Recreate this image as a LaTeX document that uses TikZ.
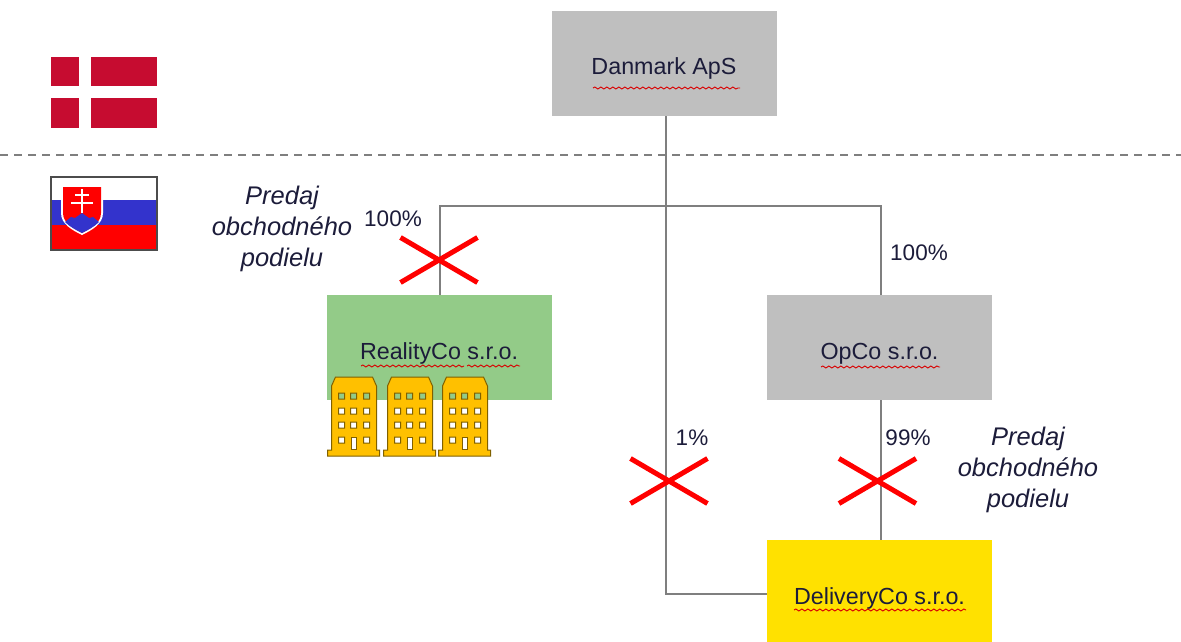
\documentclass[tikz,border=0pt]{standalone}
\usepackage{fontspec}
\setmainfont{Liberation Sans}
\usetikzlibrary{shapes.misc,decorations.pathmorphing}
\definecolor{boxGray}{HTML}{BFBFBF}
\definecolor{boxGreen}{HTML}{93CB88}
\definecolor{boxYellow}{HTML}{FFE100}
\definecolor{inkBlue}{HTML}{1C1C3A}
\definecolor{lineGray}{HTML}{7F7F7F}
\definecolor{flagRed}{HTML}{C60C30}
\definecolor{skBlue}{HTML}{3333CC}
\definecolor{houseYellow}{HTML}{FFC000}
\definecolor{houseEdge}{HTML}{7F6000}
\newcommand{\boxText}[2]{\smash{\raisebox{#1}{#2}}}
\begin{document}
\begin{tikzpicture}[
  x=1pt,y=-1pt,
  font=\fontsize{22.5}{31}\selectfont,
  every node/.style={align=center,text=inkBlue},
  box/.style={minimum width=225pt,minimum height=105pt,inner sep=0pt,fill=#1,font=\fontsize{23.3}{31}\selectfont},
  flow/.style={draw=lineGray,line width=1.2pt},
  share/.style={inner sep=0pt},
  note/.style={inner sep=0pt,font=\fontsize{25.5}{31}\selectfont\itshape},
  cancel/.style={cross out,draw=red,line width=5pt,minimum width=72pt,minimum height=40pt,inner sep=0pt},
  spell/.style={draw=red!85!black,line width=.9pt,decorate,decoration={snake,amplitude=1pt,segment length=6pt}},
  pics/building/.style={code={
    \path[fill=houseYellow,draw=houseEdge,line width=1pt,even odd rule]
      (8,0) -- (45,0) -- (49,9) -- (49,73) -- (52,73) -- (52,79) -- (0,79) -- (0,73) -- (4,73) -- (4,9) -- cycle
      \foreach \row in {19,34,48,63} {\foreach \col in {14,26,39} {(\col-3,\row-3) rectangle (\col+3,\row+3)}}
      ;
    \fill[houseYellow] (22,59) rectangle (30,67);
    \draw[fill=white,draw=houseEdge,line width=.8pt] (23.5,60) rectangle (28.5,72);
  }}]

\useasboundingbox (0,0) rectangle (1181,641);
\clip (0,0) rectangle (1181,641);

% Border between the two countries
\coordinate (borderLeft) at (0,155);
\coordinate (borderRight) at (1181,155);
\draw [lineGray,line width=1.2pt,dash pattern=on 8pt off 6pt] (borderLeft) -- (borderRight);

% Danish flag
\fill [flagRed] (51,57) rectangle (157,128);
\fill [white] (79,57) rectangle (91,128);
\fill [white] (51,86) rectangle (157,98);

% Slovak flag
\fill [white] (51,177) rectangle (157,200);
\fill [skBlue] (51,200) rectangle (157,225);
\fill [red] (51,225) rectangle (157,250);
\draw [black!70,line width=1.6pt] (51,177) rectangle (157,250);
\fill [white] (61,186) -- (103,186) -- (103,213) .. controls (103,224) and (92,230) .. (82,235) .. controls (72,230) and (61,224) .. (61,213) -- cycle;
\fill [red] (63,187) -- (101,187) -- (101,213) .. controls (101,223) and (91,228) .. (82,233) .. controls (73,228) and (63,223) .. (63,213) -- cycle;
\fill [skBlue] (65,222) -- (71,217) -- (75,218) -- (82,213) -- (89,218) -- (93,217) -- (99,222) .. controls (94,227) and (88,230) .. (82,233) .. controls (76,230) and (70,227) .. (65,222) -- cycle;
\draw [white,line width=2pt] (82,189) -- (82,213) (75,195) -- (89,195) (71,203) -- (93,203);

% Position the boxes
\node[box=boxGray] (danmark) at (664,63.5) {\boxText{-11pt}{Danmark ApS}};
\node[box=boxGreen] (realityCo) at (439,347.5) {\boxText{-12pt}{RealityCo s.r.o.}};
\node[box=boxGray] (opCo) at (879.5,347.5) {\boxText{-12pt}{OpCo s.r.o.}};
\node[box=boxYellow] (deliveryCo) at (879.5,592.5) {\boxText{-12pt}{DeliveryCo s.r.o.}};
\coordinate (trunk) at (666,206);

% Draw the lines between the boxes
\draw [flow] ([xshift=2pt]danmark.south) |- ([yshift=-1.5pt]deliveryCo.west);
\draw [flow] ([xshift=1pt]realityCo.north) |- (trunk) -| ([xshift=1.5pt]opCo.north);
\draw [flow] ([xshift=1.5pt]opCo.south) -- ([xshift=1.5pt]deliveryCo.north);

% Crosses over the sold shares
\node[cancel] (cancelReality) at (439,260) {};
\node[cancel] (cancelOne) at (669,481) {};
\node[cancel] (cancelDelivery) at (877.5,481) {};

% Shares and notes
\node[share] (shareReality) at (393,219) {100\%};
\node[share] (shareOpCo) at (919,253) {100\%};
\node[share] (shareOne) at (692,438) {1\%};
\node[share] (shareDelivery) at (908,438) {99\%};
\node[note] (noteReality) at (282,229) {Predaj\\obchodného\\podielu};
\node[note] (noteDelivery) at (1028,470) {Predaj\\obchodného\\podielu};

% Spell check underlines
\draw [spell] (593,88) -- (740,88);
\draw [spell] (361,366) -- (464,366);
\draw [spell] (467,366) -- (520,366);
\draw [spell] (821,367) -- (940,367);
\draw [spell] (794,610) -- (966,610);

% Buildings
\pic at (327.5,377) {building};
\pic at (383.5,377) {building};
\pic at (438.5,377) {building};
\end{tikzpicture}
\end{document}
